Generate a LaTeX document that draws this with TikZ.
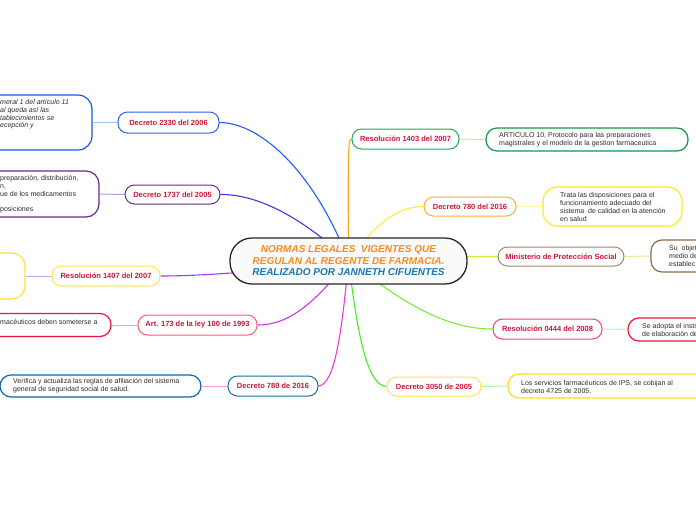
\documentclass[tikz,border=0pt]{standalone}
\usepackage{fontspec}
\setmainfont{Liberation Sans}
\usetikzlibrary{backgrounds}

\definecolor{labelred}{RGB}{204,22,58}
\definecolor{textgray}{RGB}{45,45,45}
\definecolor{titleorange}{RGB}{250,140,30}
\definecolor{titleblue}{RGB}{24,120,182}

\definecolor{link2330}{RGB}{31,92,255}
\definecolor{link1737}{RGB}{68,51,238}
\definecolor{link1407}{RGB}{155,60,240}
\definecolor{link173}{RGB}{204,51,238}
\definecolor{link780l}{RGB}{255,51,204}
\definecolor{link1403}{RGB}{255,163,26}
\definecolor{link780r}{RGB}{255,238,51}
\definecolor{linkmps}{RGB}{204,238,51}
\definecolor{link0444}{RGB}{119,238,51}
\definecolor{link3050}{RGB}{68,238,34}

\definecolor{sub2330}{RGB}{169,194,255}
\definecolor{sub1737}{RGB}{163,160,245}
\definecolor{sub1407}{RGB}{200,162,255}
\definecolor{sub173}{RGB}{240,160,245}
\definecolor{sub780l}{RGB}{255,158,224}
\definecolor{sub1403}{RGB}{255,208,147}
\definecolor{sub780r}{RGB}{255,243,160}
\definecolor{submps}{RGB}{221,240,144}
\definecolor{sub0444}{RGB}{198,245,168}
\definecolor{sub3050}{RGB}{176,245,160}

\tikzset{
  branch/.style={draw, line width=1pt, fill=white, rounded corners=9.5pt, inner sep=0pt,
    font=\fontsize{7.5}{9}\selectfont\bfseries, text=labelred},
  detail/.style={draw, line width=1.2pt, fill=white, rounded corners=11pt, inner sep=0pt},
  dtext/.style={font=\fontsize{7}{8}\selectfont, text=textgray, align=left, anchor=west, inner sep=0pt},
  link/.style={line width=1.1pt},
  sublink/.style={line width=1pt},
}

\begin{document}
\begin{tikzpicture}[x=1pt, y=-1pt]
 \clip (0,0) rectangle (696,520);

 \node[draw=black!85, line width=1.3pt, fill=black!2, rounded corners=22pt,
   minimum width=237pt, minimum height=46pt, align=center,
   font=\fontsize{10}{11.5}\selectfont\bfseries\itshape] (main) at (348.5,261)
   {\textcolor{titleorange}{NORMAS LEGALES\ \ VIGENTES QUE}\\
    \textcolor{titleorange}{REGULAN AL REGENTE DE FARMACIA.}\\
    \textcolor{titleblue}{REALIZADO POR JANNETH CIFUENTES}};

 % left side
 \node[branch, draw={rgb,255:red,42;green,96;blue,245}, minimum width=101pt, minimum height=21pt] (d2330) at (168.5,122.5) {Decreto 2330 del 2006};
 \node[detail, draw={rgb,255:red,26;green,85;blue,238}, rounded corners=14pt, minimum width=152pt, minimum height=55pt] (t2330) at (16,122.5) {};
 \node[dtext, font=\fontsize{7}{7.6}\selectfont\itshape] (x2330) at (0,114.5) {meral 1 del artículo 11\\ al queda así las\\ tablecimientos se\\ ecepción y};

 \node[branch, draw={rgb,255:red,107;green,42;blue,143}, minimum width=95pt, minimum height=19pt] (d1737) at (172.5,194.5) {Decreto 1737 del 2005};
 \node[detail, draw={rgb,255:red,107;green,42;blue,143}, rounded corners=13pt, minimum width=159pt, minimum height=46pt] (t1737) at (19.5,194) {};
 \node[dtext, font=\fontsize{7}{7.8}\selectfont] (x1737) at (0,194.5) {preparación, distribución,\\ n,\\ ue de los medicamentos\\[7.8pt] posiciones};

 \node[branch, draw={rgb,255:red,255;green,228;blue,74}, minimum width=108pt, minimum height=20pt] (r1407) at (106,276) {Resolución 1407 del 2007};
 \node[detail, draw={rgb,255:red,255;green,224;blue,51}, rounded corners=13pt, minimum width=85pt, minimum height=46pt] (t1407) at (-17.5,276) {};

 \node[branch, draw={rgb,255:red,255;green,90;blue,122}, minimum width=119pt, minimum height=20pt] (a173) at (197.5,325) {Art. 173 de la ley 100 de 1993};
 \node[detail, draw={rgb,255:red,232;green,22;blue,60}, minimum width=171pt, minimum height=23pt] (t173) at (25.5,325) {};
 \node[dtext] (x173) at (0,321.5) {macéuticos deben someterse a};

 \node[branch, draw={rgb,255:red,26;green,110;blue,166}, minimum width=90pt, minimum height=20pt] (d780l) at (273,386) {Decreto 780 de 2016};
 \node[detail, draw={rgb,255:red,13;green,104;blue,173}, minimum width=201pt, minimum height=22pt] (t780l) at (100.5,386) {};
 \node[dtext] (x780l) at (13,386) {Verifica y actualiza las reglas de afiliación del sistema\\ general de seguridad social de salud.};

 % right side
 \node[branch, draw={rgb,255:red,31;green,170;blue,85}, minimum width=107pt, minimum height=20pt] (r1403) at (405.5,139) {Resolución 1403 del 2007};
 \node[detail, draw={rgb,255:red,15;green,154;blue,69}, minimum width=202pt, minimum height=23pt] (t1403) at (587,139.5) {};
 \node[dtext] (x1403) at (499,139.5) {ARTICULO 10, Protocolo para las preparaciones\\ magistrales y el modelo de la gestion farmaceutica};

 \node[branch, draw={rgb,255:red,255;green,176;blue,48}, minimum width=92pt, minimum height=19pt] (d780r) at (470,206.5) {Decreto 780 del 2016};
 \node[detail, draw={rgb,255:red,255;green,232;blue,26}, rounded corners=14pt, minimum width=139pt, minimum height=39pt] (t780r) at (612.5,206.5) {};
 \node[dtext] (x780r) at (560,207) {Trata las disposiciones para el\\ funcionamiento adecuado del\\ sistema\ \ de calidad en la atención\\ en salud};

 \node[branch, draw={rgb,255:red,168;green,132;blue,96}, minimum width=126pt, minimum height=19pt] (mps) at (561,256.5) {Ministerio de Protección Social};
 \node[detail, draw={rgb,255:red,140;green,108;blue,76}, minimum width=110pt, minimum height=32pt] (tmps) at (706,256) {};
 \node[dtext] (xmps) at (669,256) {Su\ \ objet\\ medio de\\ establec};

 \node[branch, draw={rgb,255:red,255;green,64;blue,96}, minimum width=109pt, minimum height=20pt] (r0444) at (547.5,329) {Resolución 0444 del 2008};
 \node[detail, draw={rgb,255:red,232;green,22;blue,60}, minimum width=130pt, minimum height=23pt] (t0444) at (693,329.5) {};
 \node[dtext] (x0444) at (642,329.5) {Se adopta el instr\\ de elaboración de};

 \node[branch, draw={rgb,255:red,255;green,228;blue,74}, minimum width=94pt, minimum height=19pt] (d3050) at (434,386.5) {Decreto 3050 de 2005};
 \node[detail, draw={rgb,255:red,255;green,221;blue,17}, minimum width=250pt, minimum height=24pt] (t3050) at (633,386) {};
 \node[dtext] (x3050) at (521,386.5) {Los servicios farmacéuticos de IPS, se cobijan al\\ decreto 4725 de 2005.};

 \begin{scope}[on background layer]
 \draw[link, link2330] (main.center) .. controls (318,180) and (265,123) .. (d2330.east);
 \draw[link, link1737] (main.center) .. controls (300,215) and (255,194) .. (d1737.east);
 \draw[link, link1407] (main.center) .. controls (260,272) and (200,276) .. (r1407.east);
 \draw[link, link173] (main.center) .. controls (315,302) and (290,325) .. (a173.east);
 \draw[link, link780l] (main.center) .. controls (342,330) and (335,385) .. (d780l.east);
 \draw[link, link1403] (main.center) .. controls (348,150) and (348,139) .. (r1403.west);
 \draw[link, link780r] (main.center) .. controls (375,225) and (395,207) .. (d780r.west);
 \draw[link, linkmps] (main.center) .. controls (420,258) and (470,256) .. (mps.west);
 \draw[link, link0444] (main.center) .. controls (395,296) and (440,329) .. (r0444.west);
 \draw[link, link3050] (main.center) .. controls (356,320) and (365,386) .. (d3050.west);

 \draw[sublink, sub2330] (d2330.west) -- (t2330.east);
 \draw[sublink, sub1737] (d1737.west) -- (t1737.east);
 \draw[sublink, sub1407] (r1407.west) -- (t1407.east);
 \draw[sublink, sub173] (a173.west) -- (t173.east);
 \draw[sublink, sub780l] (d780l.west) -- (t780l.east);
 \draw[sublink, sub1403] (r1403.east) -- (t1403.west);
 \draw[sublink, sub780r] (d780r.east) -- (t780r.west);
 \draw[sublink, submps] (mps.east) -- (tmps.west);
 \draw[sublink, sub0444] (r0444.east) -- (t0444.west);
 \draw[sublink, sub3050] (d3050.east) -- (t3050.west);
 \end{scope}
\end{tikzpicture}
\end{document}
